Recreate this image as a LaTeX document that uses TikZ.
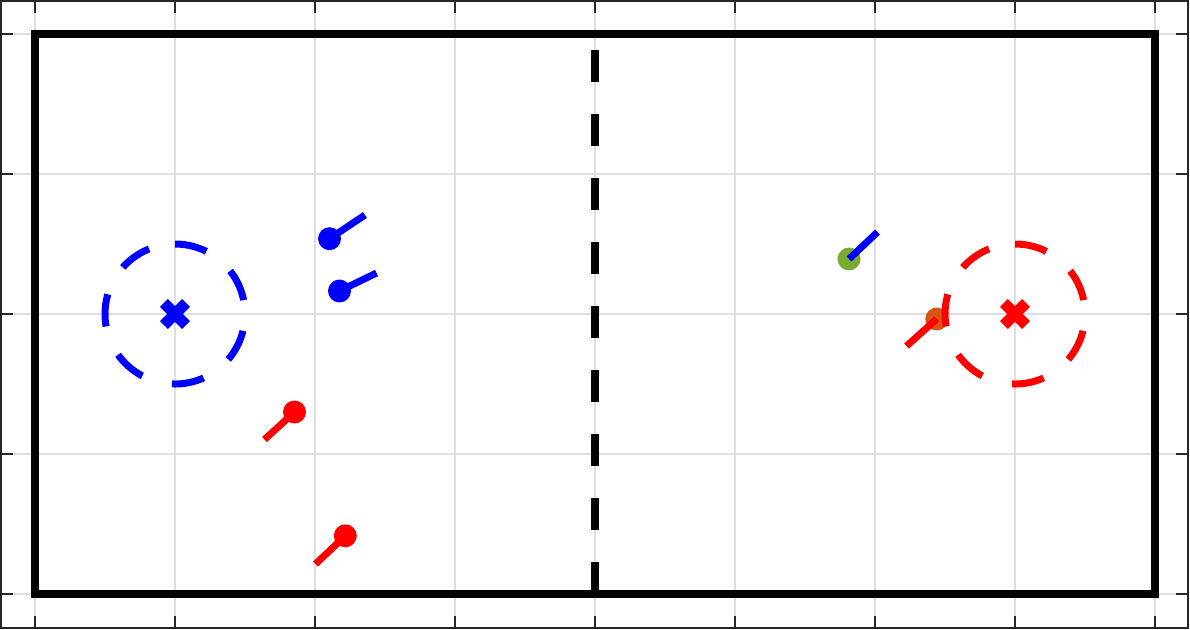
\documentclass[tikz,border=0pt]{standalone}
\begin{document}
\begin{tikzpicture}[x=1cm,y=1cm,
  gridline/.style={draw={rgb,255:red,222;green,222;blue,222}, line width=0.3pt},
  axisline/.style={draw={rgb,255:red,38;green,38;blue,38}, line width=0.25pt},
  tickline/.style={draw={rgb,255:red,38;green,38;blue,38}, line width=0.35pt},
  fieldframe/.style={draw=black, line width=1.55pt, line join=miter},
  midline/.style={draw=black, line width=1.62pt, dash pattern=on 6.5pt off 6.5pt},
  goalring/.style={line width=1.42pt, dash pattern=on 6.6pt off 6.3pt},
  goalmark/.style={line width=2.25pt},
  heading/.style={line width=1.42pt}]
\definecolor{mgreen}{rgb}{0.466,0.674,0.188}
\definecolor{morange}{rgb}{0.85,0.325,0.098}
\useasboundingbox[fill=white] (-0.25,-0.25) rectangle (8.25,4.242857);
% grid
\foreach \x in {0,...,8} \draw[gridline] (\x,-0.2429) -- (\x,4.2357);
\foreach \y in {0,...,4} \draw[gridline] (-0.2429,\y) -- (8.2357,\y);
% axes box
\draw[axisline] (-0.2429,-0.2429) rectangle (8.2357,4.2357);
\foreach \x in {0,...,8} {
  \draw[tickline] (\x,-0.2429) -- (\x,-0.1572);
  \draw[tickline] (\x,4.2357) -- (\x,4.15);
}
\foreach \y in {0,...,4} {
  \draw[tickline] (-0.2429,\y) -- (-0.1572,\y);
  \draw[tickline] (8.2357,\y) -- (8.15,\y);
}
% field
\draw[fieldframe] (0,0) rectangle (8,4);
\coordinate (midtop) at (4,3.8857);
\coordinate (midbot) at (4,0);
\draw[midline] (midtop) -- (midbot);
% goals centres
\coordinate (bluegoal) at (1,2);
\coordinate (redgoal) at (7,2);
% players
\coordinate (b1) at (2.1036,2.5379); \coordinate (b1h) at (2.357,2.7071);
\coordinate (b2) at (2.175,2.1643);  \coordinate (b2h) at (2.4393,2.2929);
\coordinate (r1) at (1.8536,1.3);    \coordinate (r1h) at (1.6393,1.1036);
\coordinate (r2) at (2.2164,0.4157); \coordinate (r2h) at (2.0036,0.2143);
\coordinate (g1) at (5.8143,2.3929); \coordinate (g1h) at (6.0179,2.5857);
\coordinate (o1) at (6.4407,1.9643); \coordinate (o1h) at (6.225,1.7714);
\fill[blue] (b1) circle (0.082);
\fill[blue] (b2) circle (0.082);
\fill[red] (r1) circle (0.082);
\fill[red] (r2) circle (0.082);
\fill[mgreen] (g1) circle (0.082);
\fill[morange] (o1) circle (0.082);
% goal rings and marks
\draw[goalring, blue] ([yshift=0.5cm]bluegoal) arc[start angle=90, end angle=-270, radius=0.5];
\draw[goalring, red] ([yshift=0.5cm]redgoal) arc[start angle=90, end angle=-270, radius=0.5];
\draw[goalmark, blue] ([shift={(-0.079,-0.079)}]bluegoal) -- ([shift={(0.079,0.079)}]bluegoal)
  ([shift={(-0.079,0.079)}]bluegoal) -- ([shift={(0.079,-0.079)}]bluegoal);
\draw[goalmark, red] ([shift={(-0.079,-0.079)}]redgoal) -- ([shift={(0.079,0.079)}]redgoal)
  ([shift={(-0.079,0.079)}]redgoal) -- ([shift={(0.079,-0.079)}]redgoal);
% headings
\draw[heading, blue] (b1) -- (b1h);
\draw[heading, blue] (b2) -- (b2h);
\draw[heading, red] (r1) -- (r1h);
\draw[heading, red] (r2) -- (r2h);
\draw[heading, blue] (g1) -- (g1h);
\draw[heading, red] (o1) -- (o1h);
\end{tikzpicture}
\end{document}
